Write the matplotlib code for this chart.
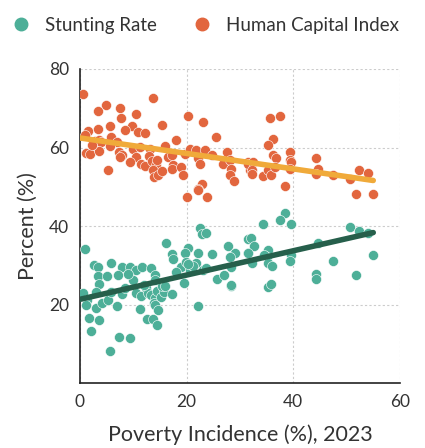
import numpy as np
import matplotlib.pyplot as plt
from matplotlib.lines import Line2D

plt.rcParams['font.family'] = ['Lato', 'DejaVu Sans']

# poverty incidence (%) vs stunting rate (%)
stunt_x = [1.0, 22.5, 22.8, 23.7, 16.1, 20.2, 19.7, 22.2, 24.7, 17.2, 17.4, 27.8,
           29.0, 28.1, 28.4, 31.5, 31.5, 19.0, 19.8, 20.6, 21.8, 21.2, 20.3, 18.1,
           19.5, 23.1, 23.7, 25.7, 27.0, 28.3, 2.6, 3.4, 5.9, 7.8, 9.4, 10.6, 11.6,
           13.4, 3.4, 5.0, 7.2, 3.6, 9.9, 14.0, 14.0, 0.6, 3.1, 1.3, 1.1, 3.1, 4.1,
           5.3, 5.9, 7.8, 8.4, 6.9, 10.6, 11.5, 12.4, 12.8, 13.4, 14.0, 14.5, 13.8,
           15.2, 15.8, 15.8, 15.3, 16.0, 17.2, 11.2, 14.0, 14.7, 1.7, 3.6, 2.0, 12.5,
           13.7, 14.4, 7.4, 9.4, 5.6, 22.2, 38.4, 37.5, 34.3, 39.5, 50.7, 52.4, 54.0,
           32.0, 32.6, 31.5, 32.3, 35.3, 35.1, 34.6, 35.3, 36.0, 39.6, 39.3, 44.6,
           47.4, 44.2, 44.2, 51.8, 54.9, 35.3, 35.9, 28.4, 12.0, 9.0]
stunt_y = [34.1, 39.6, 37.9, 38.1, 35.8, 34.5, 33.2, 33.2, 32.8, 32.8, 31.6, 35.0,
           33.2, 32.2, 29.6, 36.8, 33.0, 29.5, 30.9, 28.8, 30.5, 29.8, 30.2, 28.3,
           25.5, 28.8, 29.2, 26.5, 27.5, 24.7, 30.0, 29.6, 30.7, 29.6, 29.6, 28.7,
           29.6, 29.4, 27.3, 27.3, 27.6, 25.3, 26.2, 27.5, 26.2, 23.0, 23.3, 21.1,
           20.0, 19.2, 20.3, 21.1, 23.3, 22.8, 24.1, 19.7, 23.0, 22.1, 24.1, 23.0,
           22.4, 21.6, 23.5, 20.5, 21.8, 23.1, 25.4, 24.6, 24.8, 22.8, 18.8, 19.8,
           18.6, 16.6, 16.0, 13.2, 16.3, 16.4, 14.9, 11.8, 11.6, 8.1, 19.7, 43.4,
           41.6, 40.6, 40.5, 39.8, 38.8, 38.2, 37.0, 35.0, 33.0, 30.7, 33.8, 32.0,
           32.5, 30.5, 29.8, 32.5, 31.0, 35.7, 31.1, 27.9, 26.5, 27.5, 32.7, 24.5,
           25.2, 24.9, 25.0, 27.9]

# poverty incidence (%) vs human capital index
hci_x = [0.6, 13.7, 4.9, 3.3, 7.5, 7.7, 10.6, 20.2, 23.1, 15.3, 5.7, 9.7, 8.5,
         10.8, 12.2, 1.6, 3.4, 0.9, 5.9, 25.6, 18.1, 2.8, 3.5, 4.0, 6.9, 1.1, 1.9,
         3.6, 2.2, 5.6, 7.3, 7.8, 7.6, 10.0, 11.2, 13.1, 15.9, 10.6, 9.4, 11.5,
         12.2, 13.0, 13.6, 14.2, 14.5, 13.7, 13.9, 14.6, 15.3, 5.3, 16.5, 17.2,
         17.5, 17.2, 19.0, 19.4, 19.7, 20.6, 21.8, 22.2, 22.5, 23.4, 24.7, 27.5,
         26.8, 28.1, 28.4, 28.1, 28.8, 31.5, 31.8, 22.8, 22.2, 20.0, 22.2, 23.9,
         35.7, 37.5, 36.2, 35.3, 39.3, 36.2, 36.8, 31.5, 32.5, 32.2, 32.3, 34.3,
         35.3, 35.9, 36.5, 39.3, 39.6, 39.3, 38.4, 44.3, 44.6, 44.3, 47.4, 50.6,
         52.3, 54.0, 51.7, 54.9]
hci_y = [73.7, 72.7, 70.9, 69.2, 70.0, 67.6, 68.6, 67.9, 66.6, 65.8, 65.5, 65.5,
         64.4, 63.9, 63.7, 64.2, 64.8, 63.1, 62.7, 62.7, 61.9, 61.6, 62.0, 61.5,
         61.4, 58.5, 58.4, 59.1, 60.6, 60.3, 58.9, 58.2, 57.6, 59.7, 60.1, 59.7,
         60.3, 57.6, 56.2, 55.9, 55.2, 57.8, 56.5, 55.5, 56.8, 54.2, 52.5, 53.0,
         54.0, 54.2, 57.6, 58.0, 55.5, 54.6, 55.0, 53.0, 58.4, 59.7, 59.3, 57.2,
         55.9, 59.3, 58.0, 58.8, 55.9, 56.7, 54.6, 52.9, 51.5, 56.3, 54.2, 50.8,
         49.5, 47.4, 49.1, 47.4, 67.6, 67.9, 62.2, 60.6, 58.9, 58.0, 57.2, 55.9,
         56.4, 54.2, 53.3, 52.7, 54.2, 52.9, 55.1, 56.7, 56.3, 54.6, 50.1, 57.2,
         54.6, 53.3, 52.9, 51.9, 54.3, 53.6, 48.2, 48.1]

teal = '#4daf98'
orange = '#e2663e'
text_col = '#333333'

fig = plt.figure(figsize=(4.25, 4.48), dpi=100)
ax = fig.add_axes([0.188, 0.145, 0.753, 0.701])

ax.scatter(hci_x, hci_y, s=52, color=orange, edgecolor='white', linewidth=0.4, zorder=3)
ax.scatter(stunt_x, stunt_y, s=52, color=teal, edgecolor='white', linewidth=0.4, zorder=3)

xs = np.array([0, 55])
b1 = np.polyfit(hci_x, hci_y, 1)
ax.plot(xs, np.polyval(b1, xs), color='#f0aa3a', lw=4, solid_capstyle='round', zorder=4)
b2 = np.polyfit(stunt_x, stunt_y, 1)
ax.plot(xs, np.polyval(b2, xs), color='#265f4b', lw=4, solid_capstyle='round', zorder=4)

ax.set_xlim(0, 60)
ax.set_ylim(0, 80)
ax.set_xticks([0, 20, 40, 60])
ax.set_yticks([20, 40, 60, 80])
ax.grid(True, linestyle=(0, (2, 2)), color='#cccccc', lw=0.8, zorder=0)
ax.spines['top'].set_visible(False)
ax.spines['right'].set_visible(False)
for sp in ['left', 'bottom']:
    ax.spines[sp].set_color('#222222')
    ax.spines[sp].set_linewidth(1.2)
ax.tick_params(length=0, labelsize=12.5, colors=text_col, pad=8)
ax.set_xlabel('Poverty Incidence (%), 2023', fontsize=15.5, color=text_col, labelpad=10)
ax.set_ylabel('Percent (%)', fontsize=15.5, color=text_col, labelpad=8)

handles = [Line2D([], [], marker='o', ls='', color=teal, markersize=9),
           Line2D([], [], marker='o', ls='', color=orange, markersize=9)]
fig.legend(handles, ['Stunting Rate', 'Human Capital Index'], loc='upper left',
           bbox_to_anchor=(-0.035, 1.0), ncol=2, frameon=False, fontsize=13.5,
           handletextpad=0.3, columnspacing=1.4, labelcolor=text_col)

fig.savefig('out.png', dpi=100)
